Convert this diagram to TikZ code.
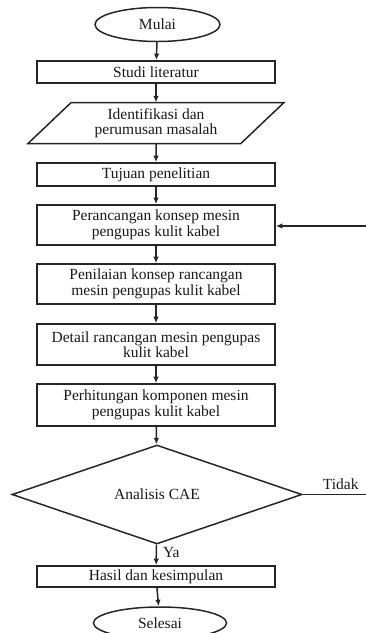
\documentclass[tikz,border=0pt]{standalone}
\usepackage{fontspec}
\setmainfont{Liberation Serif}
\usepackage{tikz}
\usetikzlibrary{arrows.meta,shapes.geometric}

\begin{document}
\begin{tikzpicture}[
    x=1pt,
    y=-1pt,
    every node/.style={
        font=\fontsize{15.5}{15.5}\selectfont,
        text=black!90,
        align=center,
        inner sep=2pt
    },
    processbox/.style={
        draw=black!85,
        line width=1.7pt,
        rectangle,
        minimum width=238pt
    },
    terminal/.style={
        draw=black!85,
        line width=1.5pt,
        ellipse,
        minimum height=34pt
    },
    inputbox/.style={
        draw=black!85,
        line width=1.5pt,
        trapezium,
        trapezium left angle=38,
        trapezium right angle=142,
        trapezium stretches body=true,
        minimum width=256pt,
        minimum height=41pt,
        outer sep=0pt
    },
    decision/.style={
        draw=black!85,
        line width=1.5pt,
        diamond,
        aspect=2.9,
        minimum width=290pt,
        minimum height=99pt,
        inner sep=0pt
    },
    flowarrow/.style={
        draw=black!85,
        line width=1.5pt,
        -{Latex[length=6.5pt,width=5.5pt]}
    },
    flowline/.style={
        draw=black!85,
        line width=1.5pt
    }
]
\useasboundingbox (0,0) rectangle (366,633);

\node[terminal, minimum width=125pt] (mulai) at (157.5,24.5) {Mulai};
\node[processbox, minimum height=22pt] (studi) at (156,72) {Studi literatur};
\node[inputbox] (identifikasi) at (156,123) {Identifikasi dan\\perumusan masalah};
\node[processbox, minimum height=23pt] (tujuan) at (156,174.5) {Tujuan penelitian};
\node[processbox, minimum height=40pt] (konsep) at (156,225) {Perancangan konsep mesin\\pengupas kulit kabel};
\node[processbox, minimum height=40pt] (penilaian) at (156,284) {Penilaian konsep rancangan\\mesin pengupas kulit kabel};
\node[processbox, minimum height=41pt] (detail) at (156,344.5) {Detail rancangan mesin pengupas\\kulit kabel};
\node[processbox, minimum height=42pt] (hitung) at (156,405) {Perhitungan komponen mesin\\pengupas kulit kabel};
\node[decision] (cae) at (157,494.5) {Analisis CAE};
\node[processbox, minimum height=21pt] (hasil) at (156,576.5) {Hasil dan kesimpulan};
\node[terminal, minimum width=133pt, minimum height=32pt] (selesai) at (160,623) {Selesai};

% alur utama
\draw[flowarrow] (mulai) -- (studi);
\draw[flowarrow] (studi) -- (identifikasi);
\draw[flowarrow] (identifikasi) -- (tujuan);
\draw[flowarrow] (tujuan) -- (konsep);
\draw[flowarrow] (konsep) -- (penilaian);
\draw[flowarrow] (penilaian) -- (detail);
\draw[flowarrow] (detail) -- (hitung);
\draw[flowarrow] (hitung) -- (cae);
\draw[flowarrow] (cae) -- node[right=4pt, pos=0.4] (ya) {Ya} (hasil);
\draw[flowarrow] (hasil) -- (selesai);

% umpan balik
\coordinate (tidakend) at (366,494.5);
\coordinate (balik) at (366,226);
\draw[flowline] (cae.east) -- node[above=2pt, pos=0.6] (tidak) {Tidak} (tidakend);
\draw[flowarrow] (balik) -- (konsep.east |- balik);

\end{tikzpicture}
\end{document}
